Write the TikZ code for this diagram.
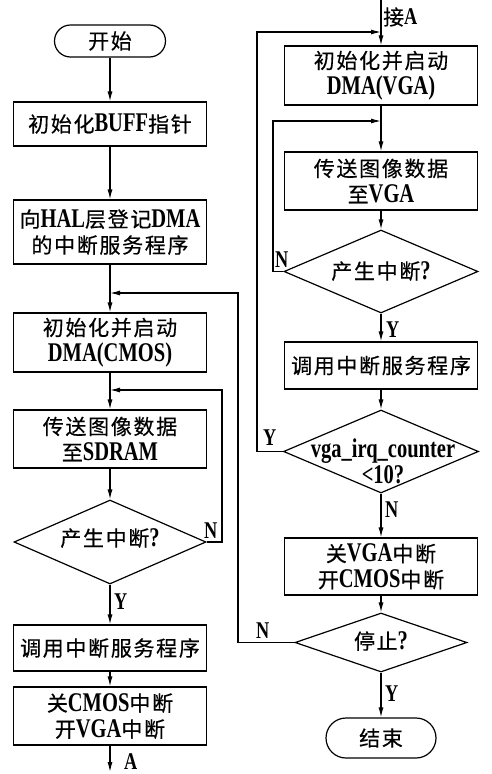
\documentclass[tikz,border=0pt]{standalone}
\usepackage{fontspec}
\setmainfont{Liberation Serif}[FakeStretch=0.76]
\newfontfamily\cjk{Noto Sans CJK SC}[LetterSpace=8,FakeBold=0.4]
\usetikzlibrary{arrows.meta,shapes.geometric}
\newcommand{\zh}[1]{{\cjk\mdseries\fontsize{21}{26}\selectfont #1}}
\begin{document}
\begin{tikzpicture}[x=1pt,y=-1pt,
  every node/.style={font=\fontsize{27}{26}\selectfont\bfseries},
  box/.style={draw, line width=1.2pt, minimum width=193pt, inner sep=0pt, align=center},
  term/.style={draw, line width=1.2pt, inner sep=0pt},
  dia/.style={draw, diamond, line width=1.2pt, inner sep=0pt},
  txt/.style={inner sep=0pt, align=center},
  lbl/.style={inner sep=0pt, font=\fontsize{24}{24}\selectfont\bfseries},
  conn/.style={line width=1.2pt},
  arr/.style={line width=1.2pt, -{Latex[length=10pt,width=5pt]}}]
\useasboundingbox (0,0) rectangle (491,774);
% left column
\node[term, minimum width=111pt, minimum height=32pt, rounded corners=16pt] (start) at (110,41) {\zh{开始}};
\node[box, minimum height=44pt] (b1) at (110,124) {\zh{初始化}BUFF\zh{指针}};
\node[box, minimum height=64pt] (b2) at (110,232) {\zh{向}HAL\zh{层登记}DMA\\\zh{的中断服务程序}};
\node[box, minimum height=59pt] (b3) at (110,342.5) {\zh{初始化并启动}\\DMA(CMOS)};
\node[box, minimum height=58pt] (b4) at (110,439) {\zh{传送图像数据}\\\zh{至}SDRAM};
\node[dia, minimum width=192pt, minimum height=84pt] (d1) at (110,542) {};
\node[txt] (d1t) at (110,538) {\zh{产生中断}?};
\node[box, minimum height=46pt] (b5) at (110,648) {\zh{调用中断服务程序}};
\node[box, minimum height=58pt] (b6) at (110,716) {\zh{关}CMOS\zh{中断}\\\zh{开}VGA\zh{中断}};
\coordinate (aend) at (110,772);
% right column
\coordinate (atop) at (381,0);
\node[box, minimum height=59pt] (r1) at (381,75.5) {\zh{初始化并启动}\\DMA(VGA)};
\node[box, minimum height=58pt] (r2) at (381,181) {\zh{传送图像数据}\\\zh{至}VGA};
\node[dia, minimum width=194pt, minimum height=83pt] (d2) at (381,271.5) {};
\node[txt] (d2t) at (381,271) {\zh{产生中断}?};
\node[box, minimum height=47pt] (r3) at (381,365.5) {\zh{调用中断服务程序}};
\node[dia, minimum width=195pt, minimum height=83pt] (d3) at (381,451.5) {};
\node[txt] (d3t) at (383,461) {vga\_irq\_counter\\<10?};
\node[box, minimum height=57pt] (r4) at (381,566.5) {\zh{关}VGA\zh{中断}\\\zh{开}CMOS\zh{中断}};
\node[dia, minimum width=172pt, minimum height=59pt] (d4) at (381,642.5) {};
\node[txt] (d4t) at (381,641) {\zh{停止}?};
\node[term, minimum width=110pt, minimum height=40pt, rounded corners=20pt] (end) at (381,738) {\zh{结束}};
% main flow
\draw[arr] (start) -- (b1);
\draw[arr] (b1) -- (b2);
\draw[arr] (b2) -- (b3);
\draw[arr] (b3) -- (b4);
\draw[arr] (b4) -- (d1);
\draw[arr] (d1) -- (b5);
\draw[arr] (b5) -- (b6);
\draw[arr] (b6) -- (aend);
\draw[arr] (atop) -- (r1);
\draw[arr] (r1) -- (r2);
\draw[arr] (r2) -- (d2);
\draw[arr] (d2) -- (r3);
\draw[arr] (r3) -- (d3);
\draw[arr] (d3) -- (r4);
\draw[arr] (r4) -- (d4);
\draw[arr] (d4) -- (end);
% loops
\coordinate (c1) at (238,293); \coordinate (m1) at (110,293);
\coordinate (c2) at (222,390); \coordinate (m2) at (110,390);
\coordinate (c3) at (273,121); \coordinate (m3) at (381,121);
\coordinate (c4) at (257,32);  \coordinate (m4) at (381,32);
\draw[arr] (d4.west) -| (c1) -- (m1);
\draw[arr] (d1.east) -| (c2) -- (m2);
\draw[arr] (d2.west) -| (c3) -- (m3);
\draw[arr] (d3.west) -| (c4) -- (m4);
% labels
\node[lbl, anchor=south west] (ln1) at (204,539) {N};
\node[lbl, anchor=west] (ly1) at (114,602) {Y};
\node[lbl, anchor=base west] (la) at (124,769) {A};
\node[lbl, anchor=west] (lja) at (383,17) {\zh{接}A};
\node[lbl, anchor=south west] (ln2) at (275,268) {N};
\node[lbl, anchor=west] (ly2) at (386,330) {Y};
\node[lbl, anchor=south west] (ly3) at (263,446) {Y};
\node[lbl, anchor=west] (ln3) at (385,510) {N};
\node[lbl, anchor=south west] (ln4) at (256,639) {N};
\node[lbl, anchor=west] (ly4) at (385,694) {Y};
\end{tikzpicture}
\end{document}
